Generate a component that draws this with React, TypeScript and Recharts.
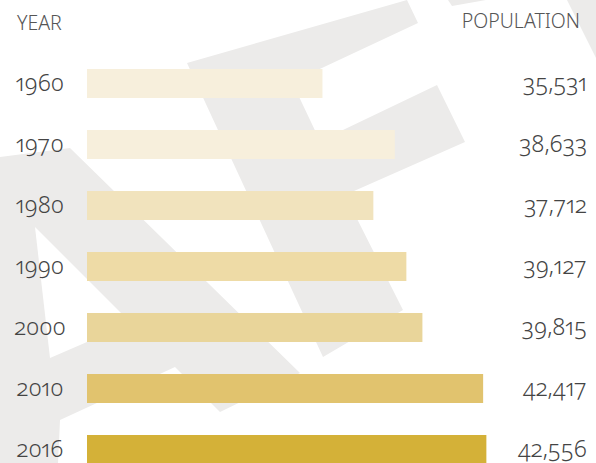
import React from 'react';
import { BarChart, Bar, XAxis, YAxis, Cell, LabelList } from 'recharts';

const years = ['1960', '1970', '1980', '1990', '2000', '2010', '2016'];
const population = [35531, 38633, 37712, 39127, 39815, 42417, 42556];
const barColors = ['#F7EFDC', '#F7EFDC', '#F1E3BD', '#EEDBA6', '#E9D59A', '#E1C36E', '#D4B138'];

const data = years.map((y, i) => ({ year: y, population: population[i] }));

const FONT = '"Noto Sans", sans-serif';
const TEXT = '#444';
const WM = '#ECEBEA';
const numStyle: React.CSSProperties = {
  fontVariantNumeric: 'oldstyle-nums proportional-nums',
  fontFeatureSettings: '"onum" 1, "pnum" 1',
};

const YearTick = (props: any) => {
  const { y, payload } = props;
  return (
    <text x={40} y={y} dy={7.5} textAnchor="middle" fontSize={23} fontWeight={300} fill={TEXT} fontFamily={FONT} style={numStyle}>
      {payload.value}
    </text>
  );
};

const ValueLabel = (props: any) => {
  const { y, height, value } = props;
  return (
    <text x={587} y={y + height / 2} dy={7.5} textAnchor="end" fontSize={23} fontWeight={300} fill={TEXT} fontFamily={FONT} style={numStyle}>
      {Number(value).toLocaleString('en-US')}
    </text>
  );
};

const pts = (a: number[][]) => a.map(p => p.join(',')).join(' ');

export default function App() {
  return (
    <div style={{ position: 'absolute', left: 0, top: 0, width: 596, height: 463, overflow: 'hidden', background: '#fff' }}>
      <svg width={596} height={463} style={{ position: 'absolute', left: 0, top: 0 }}>
        <polygon fill={WM} points={pts([[0, 157], [70, 148], [300, 373], [220, 412], [175, 367], [60, 420], [58, 463], [0, 463]])} />
        <polygon fill="#fff" points={pts([[35, 227], [50, 358], [131, 323]])} />
        <polygon fill={WM} points={pts([[187, 63], [407, 0], [418, 23], [292, 82], [320, 141], [437, 85], [465, 142], [345, 195], [403, 310], [323, 357]])} />
        <polygon fill={WM} points={pts([[567, 0], [596, 0], [596, 58]])} />
        <polygon fill={WM} points={pts([[448, 0], [486, 0], [452, 6]])} />
        <text x={17} y={30} fontSize={19.5} fontWeight={300} fill="#555" fontFamily={FONT}>YEAR</text>
        <text x={580} y={28} fontSize={19.5} fontWeight={300} fill="#555" fontFamily={FONT} textAnchor="end">POPULATION</text>
      </svg>
      <div style={{ position: 'absolute', left: 0, top: 0 }}>
        <BarChart width={596} height={480} data={data} layout="vertical"
          margin={{ top: 53, right: 89, bottom: 0, left: 0 }}>
          <XAxis type="number" domain={[25440, 43440]} hide />
          <YAxis type="category" dataKey="year" width={87} axisLine={false} tickLine={false} tick={<YearTick />} interval={0} />
          <Bar dataKey="population" barSize={29} isAnimationActive={false}>
            {data.map((d, i) => <Cell key={d.year} fill={barColors[i]} />)}
            <LabelList dataKey="population" content={<ValueLabel />} />
          </Bar>
        </BarChart>
      </div>
    </div>
  );
}
